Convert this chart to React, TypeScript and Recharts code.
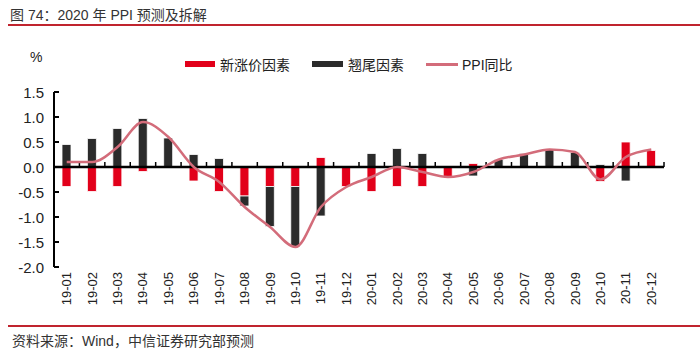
import React from 'react';
import { ComposedChart, Bar, Line, XAxis, YAxis, ReferenceLine } from 'recharts';

const categories = ['19-01','19-02','19-03','19-04','19-05','19-06','19-07','19-08','19-09','19-10','19-11','19-12','20-01','20-02','20-03','20-04','20-05','20-06','20-07','20-08','20-09','20-10','20-11','20-12'];
const newPriceFactor = [-0.39,-0.49,-0.39,-0.09,0,-0.28,-0.49,-0.58,-0.39,-0.39,0.19,-0.39,-0.49,-0.39,-0.39,-0.19,0.07,0,0,0,0,-0.29,0.5,0.33];
const carryoverFactor = [0.45,0.57,0.77,0.97,0.58,0.25,0.17,-0.2,-0.8,-1.2,-0.98,0,0.27,0.37,0.27,0,-0.18,0.15,0.27,0.35,0.29,0.05,-0.28,0];
const ppiYoY = [0.1,0.1,0.4,0.9,0.6,0.0,-0.3,-0.8,-1.2,-1.6,-0.8,-0.4,-0.2,0.0,-0.1,-0.2,-0.1,0.15,0.25,0.35,0.3,-0.25,0.2,0.35];
const yTicks = [-2.0,-1.5,-1.0,-0.5,0.0,0.5,1.0,1.5];

const seriesNames = ['新涨价因素','翘尾因素','PPI同比'];
const RED = '#E2001A';
const BLACK = '#2B2B2B';
const PINK = '#D36C7A';
const FONT = '"Liberation Sans", Arial, "Noto Sans CJK SC", sans-serif';

const data = categories.map((c, i) => ({
  cat: c,
  np: newPriceFactor[i],
  co: carryoverFactor[i],
  ppi: ppiYoY[i],
}));

const XTick = (props: any) => {
  const { x, y, payload } = props;
  return (
    <text x={x} y={y} transform={`rotate(-90, ${x}, ${y})`} textAnchor="end" dominantBaseline="central"
      fontSize={13} fill="#222" fontFamily={FONT}>{payload.value}</text>
  );
};

const YTick = (props: any) => {
  const { x, y, payload } = props;
  const ax = x + 10;
  return (
    <g>
      <text x={x} y={y} textAnchor="end" dominantBaseline="central" fontSize={15} fill="#222" fontFamily={FONT}>
        {Number(payload.value).toFixed(1)}
      </text>
      <line x1={ax} x2={ax + 5} y1={y} y2={y} stroke="#000" strokeWidth={2} />
    </g>
  );
};

const ZeroAxis = (props: any) => {
  const { x1, x2, y1 } = props;
  const n = categories.length;
  const step = (x2 - x1) / n;
  const ticks = [];
  for (let i = 1; i <= n; i++) {
    const tx = x1 + i * step;
    ticks.push(<line key={i} x1={tx} x2={tx} y1={y1} y2={y1 - 5} stroke="#000" strokeWidth={1.5} />);
  }
  return (
    <g>
      <line x1={x1} x2={x2} y1={y1} y2={y1} stroke="#000" strokeWidth={2.5} />
      {ticks}
    </g>
  );
};

export default function App() {
  return (
    <div style={{ position: 'absolute', left: 0, top: 0, width: 700, height: 355, background: '#fff', fontFamily: FONT }}>
      <div style={{ position: 'absolute', left: 10, top: 5, fontSize: 14, color: '#333', whiteSpace: 'nowrap', lineHeight: '20px' }}>
        图 74：2020 年 PPI 预测及拆解
      </div>
      <div style={{ position: 'absolute', left: 8, top: 24, width: 692, height: 2, background: '#C0242E' }} />
      <div style={{ position: 'absolute', left: 30, top: 49, fontSize: 14, color: '#222' }}>%</div>
      <div style={{ position: 'absolute', left: 185, top: 54, height: 20, display: 'flex', alignItems: 'center', fontSize: 14, color: '#222', whiteSpace: 'nowrap' }}>
        <span style={{ display: 'inline-block', width: 30, height: 6, background: RED, marginRight: 5 }} />
        <span style={{ marginRight: 22 }}>{seriesNames[0]}</span>
        <span style={{ display: 'inline-block', width: 31, height: 6, background: BLACK, marginRight: 5 }} />
        <span style={{ marginRight: 22 }}>{seriesNames[1]}</span>
        <span style={{ display: 'inline-block', width: 32, height: 3, background: PINK, marginRight: 4 }} />
        <span>{seriesNames[2]}</span>
      </div>
      <div style={{ position: 'absolute', left: 0, top: 0 }}>
        <ComposedChart width={700} height={355} data={data} stackOffset="sign"
          margin={{ top: 92, right: 36, bottom: 0, left: 9 }} barSize={9}>
          <XAxis dataKey="cat" height={88} axisLine={false} tickLine={false} tickSize={0} tickMargin={5}
            interval={0} tick={<XTick />} />
          <YAxis width={45} domain={[-2, 1.5]} ticks={yTicks} axisLine={{ stroke: '#000', strokeWidth: 2 }}
            tickLine={false} tickSize={0} tickMargin={10} tick={<YTick />} allowDataOverflow />
          <Bar dataKey="np" name={seriesNames[0]} stackId="a" fill={RED} stroke="#fff" strokeWidth={0.8} isAnimationActive={false} />
          <Bar dataKey="co" name={seriesNames[1]} stackId="a" fill={BLACK} stroke="#fff" strokeWidth={0.8} isAnimationActive={false} />
          <ReferenceLine y={0} shape={<ZeroAxis />} />
          <Line dataKey="ppi" name={seriesNames[2]} type="monotone" stroke={PINK} strokeWidth={2.5} dot={false} isAnimationActive={false} />
        </ComposedChart>
      </div>
      <div style={{ position: 'absolute', left: 8, top: 325, width: 692, height: 2, background: '#C0242E' }} />
      <div style={{ position: 'absolute', left: 12, top: 331, fontSize: 14, color: '#333', whiteSpace: 'nowrap', lineHeight: '20px' }}>
        资料来源：Wind，中信证券研究部预测
      </div>
    </div>
  );
}
